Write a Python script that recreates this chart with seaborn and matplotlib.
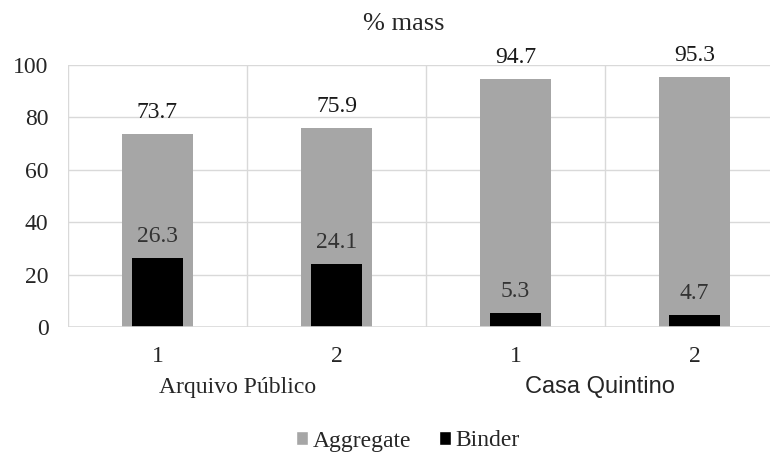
import matplotlib
matplotlib.use("Agg")
import matplotlib.pyplot as plt
from matplotlib.patches import Patch
import matplotlib.transforms as mtransforms
import seaborn as sns
import pandas as pd

# Mortar composition (% mass) per sample
sites = ["Arquivo Público", "Arquivo Público", "Casa Quintino", "Casa Quintino"]
samples = ["1", "2", "1", "2"]
aggregate = [73.7, 75.9, 94.7, 95.3]
binder = [26.3, 24.1, 5.3, 4.7]

df = pd.DataFrame({
    "key": [f"{s} {n}" for s, n in zip(sites, samples)],
    "Aggregate": aggregate,
    "Binder": binder,
})

sns.set_theme(style="white")
plt.rcParams["font.family"] = ["Liberation Serif", "DejaVu Serif"]

GREY = "#a6a6a6"
GRID = "#d9d9d9"
FS = 17

fig = plt.figure(figsize=(7.7, 4.57), dpi=100)
ax = fig.add_axes([68 / 770, 1 - 327 / 457, 716 / 770, 262 / 457])

sns.barplot(data=df, x="key", y="Aggregate", color=GREY, width=0.4,
            saturation=1, linewidth=0, ax=ax, zorder=2)
sns.barplot(data=df, x="key", y="Binder", color="black", width=0.285,
            saturation=1, linewidth=0, ax=ax, zorder=3)

for i, (a, b) in enumerate(zip(aggregate, binder)):
    ax.annotate(f"{a:.1f}", (i, a), xytext=(0, 8), textcoords="offset points",
                ha="center", va="bottom", fontsize=FS, color="#1a1a1a")
    ax.annotate(f"{b:.1f}", (i, b), xytext=(0, 8), textcoords="offset points",
                ha="center", va="bottom", fontsize=FS, color="#333333")

ax.set_xlim(-0.5, 3.5)
ax.set_ylim(0, 100)
ax.set_yticks([0, 20, 40, 60, 80, 100])
ax.set_xticks(range(4))
ax.set_xticklabels(samples)
ax.tick_params(axis="x", length=0, pad=14, labelsize=FS)
ax.tick_params(axis="y", length=0, pad=14, labelsize=FS)
ax.set_xlabel("")
ax.set_ylabel("")

# light grid: horizontal at y ticks, vertical between samples
for y in [20, 40, 60, 80, 100]:
    ax.axhline(y, color=GRID, lw=1, zorder=0)
for x in [-0.5, 0.5, 1.5, 2.5]:
    ax.axvline(x, color=GRID, lw=1, zorder=0)
for s in ax.spines.values():
    s.set_visible(False)
ax.axhline(0, color=GRID, lw=1.2, zorder=4)

# site names under the sample numbers
trans = mtransforms.blended_transform_factory(ax.transData, ax.transAxes)
ax.text(0.45, -0.23, "Arquivo Público", transform=trans, ha="center",
        va="center", fontsize=FS)
ax.text(2.47, -0.23, "Casa Quintino", transform=trans, ha="center",
        va="center", fontsize=FS, family=["Liberation Sans", "DejaVu Sans"])

fig.text(404 / 770, 1 - 24 / 457, "% mass", ha="center", va="center",
         fontsize=19)

handles = [Patch(facecolor=GREY, label="Aggregate"),
           Patch(facecolor="black", label="Binder")]
fig.legend(handles=handles, loc="center", bbox_to_anchor=(408 / 770, 1 - 441 / 457),
           ncol=2, frameon=False, fontsize=FS, handlelength=0.5,
           handleheight=0.5, handletextpad=0.2, columnspacing=1.2)

fig.savefig("out.png", dpi=100, facecolor="white")
